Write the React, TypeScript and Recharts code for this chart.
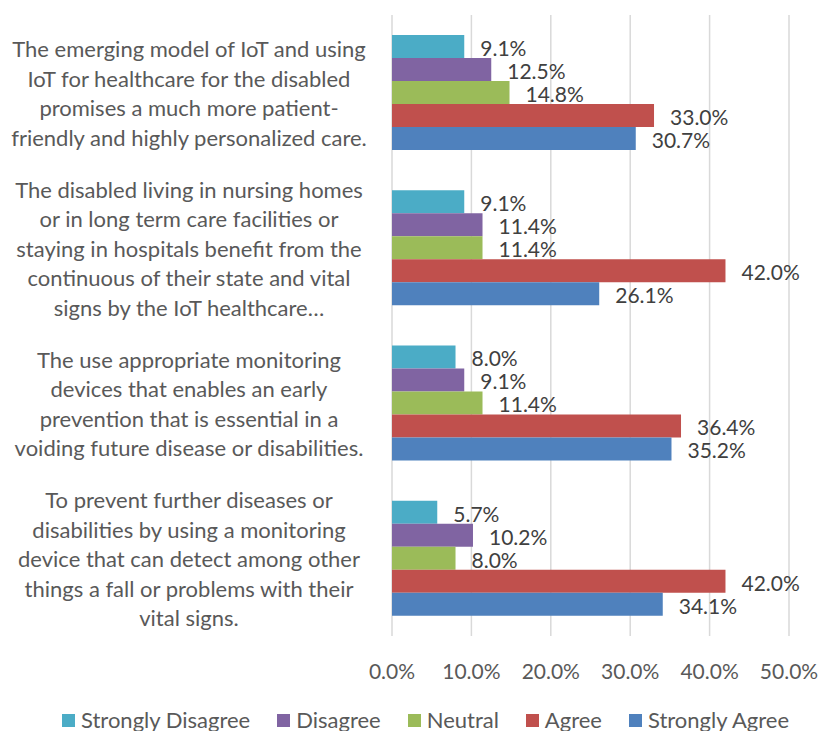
import React from 'react';
import { BarChart, Bar, XAxis, YAxis, CartesianGrid, LabelList } from 'recharts';

const categories = [
  'The emerging model of IoT and using\nIoT for healthcare for the disabled\npromises a much more patient-\nfriendly and highly personalized care.',
  'The disabled living in nursing homes\nor in long term care facilities or\nstaying in hospitals benefit from the\ncontinuous of their state and vital\nsigns by the IoT healthcare…',
  'The use appropriate monitoring\ndevices that enables an early\nprevention that is essential in a\nvoiding future disease or disabilities.',
  'To prevent further diseases or\ndisabilities by using a monitoring\ndevice that can detect among other\nthings a fall or problems with their\nvital signs.',
];

const stronglyDisagree = [9.1, 9.1, 8.0, 5.7];
const disagree = [12.5, 11.4, 9.1, 10.2];
const neutral = [14.8, 11.4, 11.4, 8.0];
const agree = [33.0, 42.0, 36.4, 42.0];
const stronglyAgree = [30.7, 26.1, 35.2, 34.1];

const xTicks = [0, 10, 20, 30, 40, 50];

const series = [
  { key: 'sd', name: 'Strongly Disagree', values: stronglyDisagree, color: '#4BACC6' },
  { key: 'd', name: 'Disagree', values: disagree, color: '#8064A2' },
  { key: 'n', name: 'Neutral', values: neutral, color: '#9BBB59' },
  { key: 'a', name: 'Agree', values: agree, color: '#C0504D' },
  { key: 'sa', name: 'Strongly Agree', values: stronglyAgree, color: '#4F81BD' },
];

const data = categories.map((c, i) => {
  const row: any = { category: c };
  series.forEach((s) => {
    row[s.key] = s.values[i];
  });
  return row;
});

const FONT = 'Lato, "Open Sans", sans-serif';

const YTick = (props: any) => {
  const { y, payload } = props;
  const lines = String(payload.value).split('\n');
  const lh = 29.5;
  const start = y - ((lines.length - 1) * lh) / 2;
  return (
    <text x={189} y={start} textAnchor="middle" fill="#595959" fontSize={22} fontFamily={FONT} dominantBaseline="central">
      {lines.map((l, i) => (
        <tspan key={i} x={189} y={start + i * lh} dominantBaseline="central">
          {l}
        </tspan>
      ))}
    </text>
  );
};

export default function App() {
  return (
    <div style={{ position: 'absolute', left: 0, top: 0, width: 818, height: 731, background: '#fff', overflow: 'hidden' }}>
      <BarChart
        width={818}
        height={731}
        data={data}
        layout="vertical"
        margin={{ top: 15, right: 29, left: 0, bottom: 55 }}
        barCategoryGap={20}
        barGap={0}
      >
        <CartesianGrid horizontal={false} stroke="#D9D9D9" strokeWidth={1.5} />
        <XAxis
          type="number"
          domain={[0, 50]}
          ticks={xTicks}
          tickFormatter={(v: number) => `${v.toFixed(1)}%`}
          axisLine={false}
          tickLine={false}
          tick={{ fill: '#595959', fontSize: 21, fontFamily: FONT }}
          tickMargin={22}
          height={40}
        />
        <YAxis
          type="category"
          dataKey="category"
          width={392}
          axisLine={false}
          tickLine={false}
          tick={<YTick />}
          interval={0}
        />
        {series.map((s) => (
          <Bar key={s.key} dataKey={s.key} name={s.name} fill={s.color} isAnimationActive={false}>
            <LabelList
              dataKey={s.key}
              position="right"
              offset={16}
              formatter={(v: number) => `${v.toFixed(1)}%`}
              fill="#404040"
              fontSize={21}
              fontFamily={FONT}
              dy={2}
            />
          </Bar>
        ))}
      </BarChart>
      <div
        style={{
          position: 'absolute',
          top: 706,
          left: 62,
          display: 'flex',
          alignItems: 'center',
          fontFamily: FONT,
          fontSize: 22,
          color: '#595959',
          whiteSpace: 'nowrap',
          lineHeight: '28px',
        }}
      >
        {series.map((s) => (
          <div key={s.key} style={{ display: 'flex', alignItems: 'center', marginRight: 27 }}>
            <span style={{ width: 13, height: 13, background: s.color, display: 'inline-block', marginRight: 6 }} />
            <span>{s.name}</span>
          </div>
        ))}
      </div>
    </div>
  );
}
